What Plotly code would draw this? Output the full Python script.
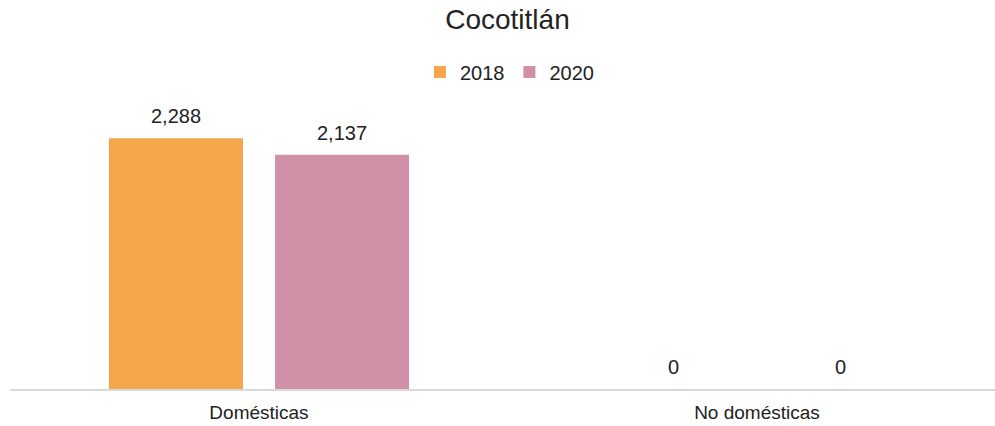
import plotly.graph_objects as go

categories = ["Domésticas", "No domésticas"]
years = ["2018", "2020"]
values_2018 = [2288, 0]
values_2020 = [2137, 0]
colors = ["#F4A64A", "#D091A8"]

cat_pos = list(range(len(categories)))
bargap = 0.333
slot = (1 - bargap) / len(years)

fig = go.Figure()
annotations = []
for i, (name, vals, col) in enumerate(zip(years, [values_2018, values_2020], colors)):
    fig.add_trace(go.Bar(
        x=cat_pos, y=vals, name=name,
        marker=dict(color=col, line=dict(width=0)),
        hoverinfo="skip",
    ))
    off = (i - (len(years) - 1) / 2) * slot
    for xp, v in zip(cat_pos, vals):
        annotations.append(dict(
            x=xp + off, y=v, xref="x", yref="y", text=f"{v:,}",
            showarrow=False, yanchor="bottom", yshift=9,
            font=dict(size=20, color="#222222"),
        ))

fig.update_layout(
    width=995, height=426,
    margin=dict(l=10, r=0, t=100, b=37, autoexpand=False),
    paper_bgcolor="white", plot_bgcolor="white",
    font=dict(family="Liberation Sans, Arial, sans-serif", color="#222222"),
    title=dict(text="Cocotitlán", x=0.51, xref="container", xanchor="center",
               y=0.955, yref="container", yanchor="middle",
               font=dict(size=28, color="#222222")),
    barmode="group", bargap=bargap, bargroupgap=0.193,
    showlegend=True,
    legend=dict(orientation="h", x=0.507, xanchor="center", y=1.0 + 28/289,
                yanchor="middle", font=dict(size=20, color="#222222"),
                itemwidth=30, traceorder="normal"),
    annotations=annotations,
    xaxis=dict(range=[-0.5, 1.478], tickvals=cat_pos, ticktext=categories,
               showline=True, linecolor="#D9D9D9", linewidth=2,
               showgrid=False, zeroline=False, ticks="", automargin=False,
               tickfont=dict(size=19, color="#222222"), ticklabelstandoff=5),
    yaxis=dict(range=[0, 2637], visible=False, showgrid=False, zeroline=False,
               automargin=False),
)

fig.write_html("out.html", config={"displayModeBar": False},
               post_script="document.body.style.margin='0';document.body.style.overflow='hidden';")
